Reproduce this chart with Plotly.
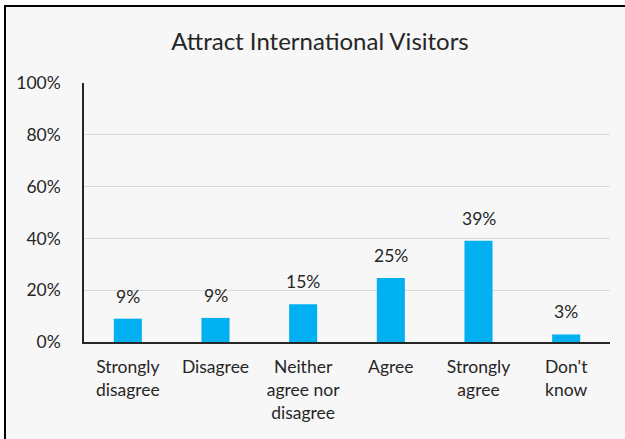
import plotly.graph_objects as go

# Survey responses: share of respondents per answer
categories = ["Strongly<br>disagree", "Disagree", "Neither<br>agree nor<br>disagree",
              "Agree", "Strongly<br>agree", "Don't<br>know"]
shares = [0.090, 0.093, 0.146, 0.247, 0.391, 0.029]
y_ticks = [0, 0.2, 0.4, 0.6, 0.8, 1.0]
y_tick_labels = ["0%", "20%", "40%", "60%", "80%", "100%"]

FONT = "Lato"
BAR_COLOR = "#00B0F0"
TEXT_COLOR = "#262626"

W, H = 625, 439
L, R, T, B = 84, 15, 83, 97
pw, ph = W - L - R, H - T - B

fig = go.Figure(go.Bar(
    x=categories, y=shares,
    marker=dict(color=BAR_COLOR, line=dict(width=0)),
    hoverinfo="skip",
))

# value labels above bars
for c, v in zip(categories, shares):
    fig.add_annotation(x=c, y=v, text=f"{round(v * 100):d}%", showarrow=False,
                       yanchor="bottom", yshift=10,
                       font=dict(family=FONT, size=17.5, color=TEXT_COLOR))

# outer frame of the chart area
fig.add_shape(type="rect", xref="paper", yref="paper", layer="below",
              x0=(5 - L) / pw, x1=(W + 10 - L) / pw,
              y0=-(H + 10 - T - ph) / ph, y1=(T + ph - 6) / ph,
              line=dict(color="#000000", width=2), fillcolor="#F7F7F7")

fig.update_layout(
    width=W, height=H,
    margin=dict(l=L, r=R, t=T, b=B),
    paper_bgcolor="white",
    plot_bgcolor="rgba(0,0,0,0)",
    bargap=0.68,
    showlegend=False,
    font=dict(family=FONT, size=17.5, color=TEXT_COLOR),
    title=dict(text="Attract International Visitors", x=(320 - L) / pw, xref="paper",
               xanchor="center", y=1 - 42 / H, yanchor="middle",
               font=dict(family=FONT, size=24, color=TEXT_COLOR)),
    xaxis=dict(showgrid=False, showline=True, linecolor=TEXT_COLOR, linewidth=2,
               ticks="", tickfont=dict(family=FONT, size=17.5, color=TEXT_COLOR),
               ticklabelstandoff=8, fixedrange=True),
    yaxis=dict(range=[0, 1.0], tickvals=y_ticks, ticktext=y_tick_labels,
               showgrid=True, gridcolor="#D9D9D9", gridwidth=1,
               showline=True, linecolor=TEXT_COLOR, linewidth=1.5,
               zeroline=False, ticks="", ticklabelstandoff=18,
               tickfont=dict(family=FONT, size=17.5, color=TEXT_COLOR),
               fixedrange=True),
)

fig.write_html("out.html")
